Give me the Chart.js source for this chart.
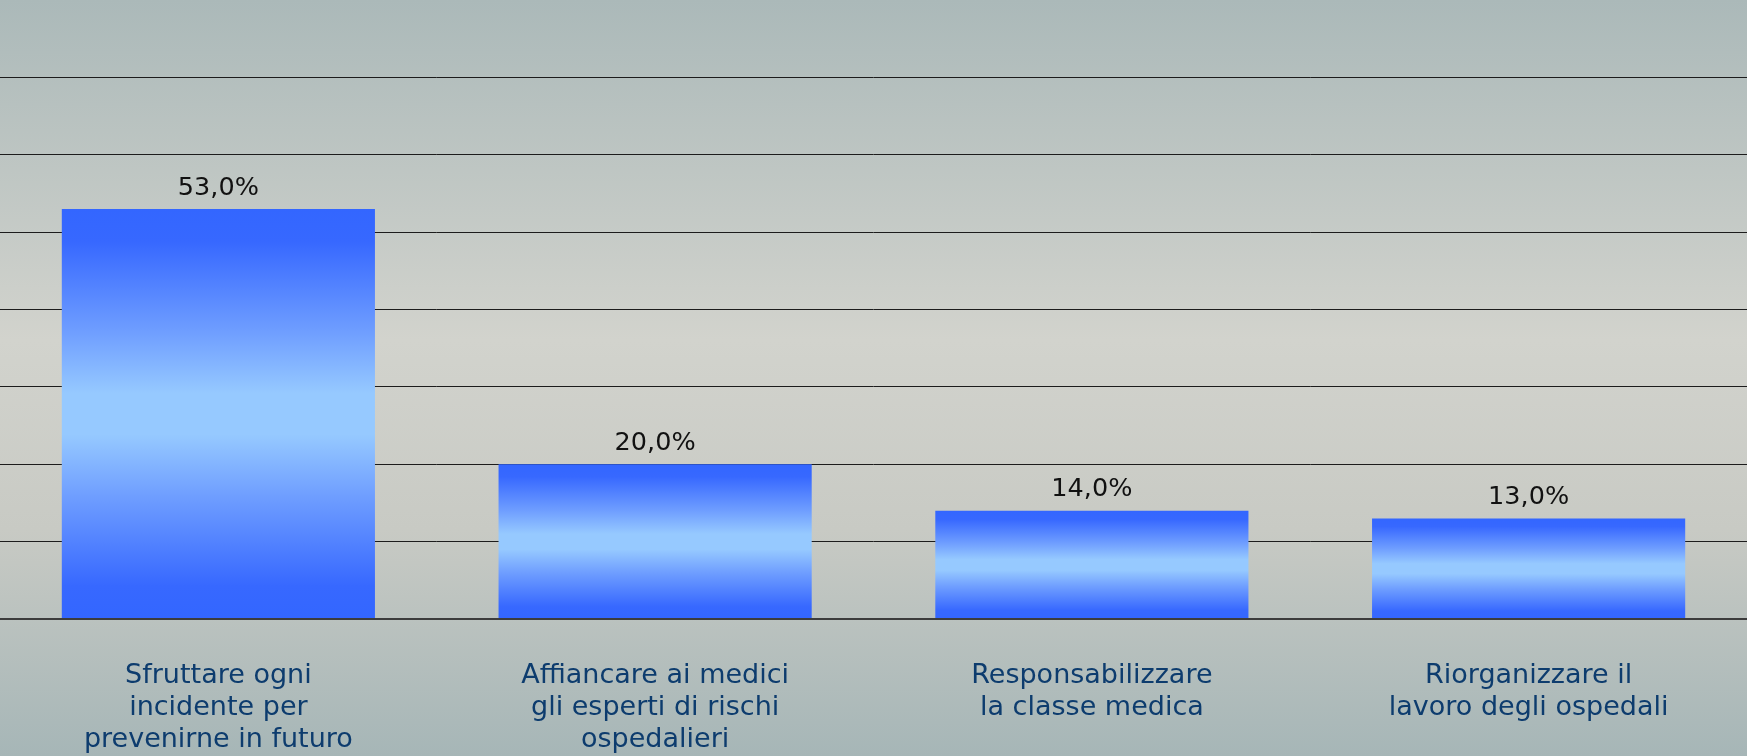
<!DOCTYPE html>
<html>
<head>
<meta charset="utf-8">
<script src="https://cdn.jsdelivr.net/npm/chart.js@4/dist/chart.umd.min.js"></script>
<style>
  html, body { margin: 0; padding: 0; overflow: hidden; width: 1747px; height: 756px; }
  /* il canvas è più alto della finestra: Chart.js conta due volte il padding dei tick */
  #box { position: relative; width: 1747px; height: 797px; }
</style>
</head>
<body>
<div id="box"><canvas id="chart"></canvas></div>
<script>
// ===============================
// Dati del grafico
// ===============================

// Categorie (etichette asse X, su più righe)
const categorie = [
    ["Sfruttare ogni", "incidente per", "prevenirne in futuro"],
    ["Affiancare ai medici", "gli esperti di rischi", "ospedalieri"],
    ["Responsabilizzare", "la classe medica"],
    ["Riorganizzare il", "lavoro degli ospedali"]
];

// Percentuali
const valori = [53, 20, 14, 13];

// Scala asse Y
const yMin = 0;
const yMax = 80;
const yStep = 10;

const FONT = "'DejaVu Sans', Verdana, sans-serif";
const ALTEZZA_VISIBILE = 756;

// ===============================
// Sfondo sfumato dell'intera immagine
// ===============================
const sfondo = {
    id: "sfondo",
    beforeDraw(chart) {
        const ctx = chart.ctx;
        const g = ctx.createLinearGradient(0, 0, 0, ALTEZZA_VISIBILE);
        g.addColorStop(0, "#abb9b9");
        g.addColorStop(0.45, "#d2d3cd");
        g.addColorStop(0.7, "#c8cac4");
        g.addColorStop(1, "#a6b6b7");
        ctx.save();
        ctx.fillStyle = g;
        ctx.fillRect(0, 0, chart.width, chart.height);
        ctx.restore();
    }
};

// ===============================
// Etichette dei valori sopra le barre
// ===============================
const etichette = {
    id: "etichette",
    afterDatasetsDraw(chart) {
        const ctx = chart.ctx;
        const meta = chart.getDatasetMeta(0);
        ctx.save();
        ctx.font = "25.5px " + FONT;
        ctx.fillStyle = "#111111";
        ctx.textAlign = "center";
        ctx.textBaseline = "middle";
        meta.data.forEach((bar, i) => {
            const txt = valori[i].toFixed(1).replace(".", ",") + "%";
            ctx.fillText(txt, bar.x, bar.y - 21);
        });
        ctx.restore();
    }
};

// Sfumatura blu di ogni barra (scuro - chiaro - scuro)
function coloreBarra(context) {
    const chart = context.chart;
    const y = chart.scales.y;
    if (!chart.chartArea || !y || context.raw === undefined) return "#5a8cff";
    const top = y.getPixelForValue(context.raw);
    const base = y.getPixelForValue(0);
    if (!isFinite(top) || !isFinite(base) || base - top < 1) return "#5a8cff";
    const g = chart.ctx.createLinearGradient(0, top, 0, base);
    g.addColorStop(0, "#3366ff");
    g.addColorStop(0.08, "#3768ff");
    g.addColorStop(0.3, "#6f9eff");
    g.addColorStop(0.45, "#96c9ff");
    g.addColorStop(0.55, "#96c9ff");
    g.addColorStop(0.7, "#6f9eff");
    g.addColorStop(0.92, "#3768ff");
    g.addColorStop(1, "#3366ff");
    return g;
}

new Chart(document.getElementById("chart"), {
    type: "bar",
    data: {
        labels: categorie,
        datasets: [{
            data: valori,
            backgroundColor: coloreBarra,
            borderWidth: 0,
            barPercentage: 1,
            categoryPercentage: 0.717
        }]
    },
    options: {
        responsive: true,
        maintainAspectRatio: false,
        animation: false,
        layout: { padding: 0 },
        plugins: {
            legend: { display: false },
            tooltip: { enabled: false }
        },
        scales: {
            x: {
                grid: { display: false, drawTicks: false },
                border: { display: false },
                ticks: {
                    padding: 41,
                    color: "#0d3c6e",
                    font: { family: FONT, size: 27, lineHeight: 1.185 },
                    maxRotation: 0,
                    autoSkip: false
                }
            },
            y: {
                min: yMin,
                max: yMax,
                border: { display: false },
                grid: {
                    drawTicks: false,
                    color: ctx => ctx.tick.value === yMax ? "rgba(0,0,0,0)"
                        : ctx.tick.value === 0 ? "#3c3c3c" : "#1c1c1c",
                    lineWidth: ctx => ctx.tick.value === 0 ? 2 : 1
                },
                ticks: { display: false, stepSize: yStep }
            }
        }
    },
    plugins: [sfondo, etichette]
});
</script>
</body>
</html>
